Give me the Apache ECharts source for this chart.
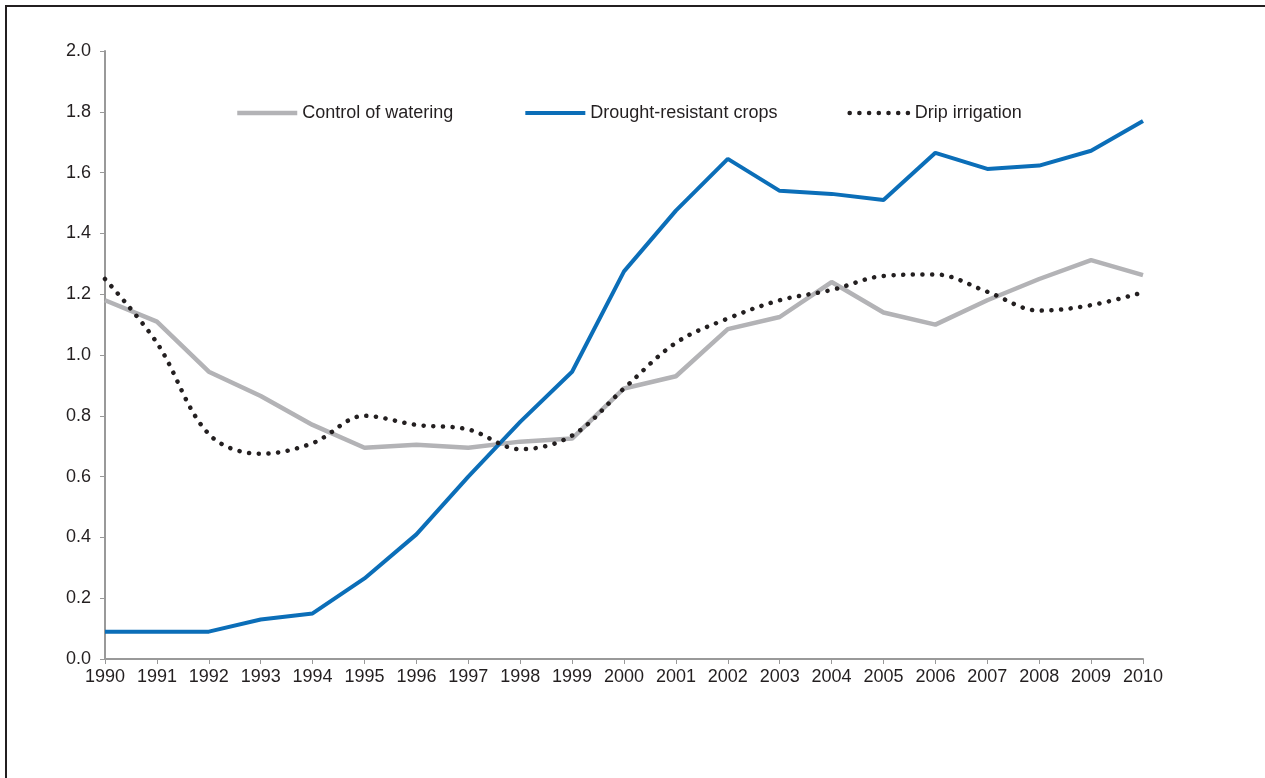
<!DOCTYPE html>
<html>
<head>
<meta charset="utf-8">
<script src="https://cdn.jsdelivr.net/npm/echarts@6/dist/echarts.min.js"></script>
<style>html,body{margin:0;padding:0;background:#fff;}#c{width:1265px;height:778px;}</style>
</head>
<body>
<div id="c"></div>
<script>
const years = ['1990','1991','1992','1993','1994','1995','1996','1997','1998','1999','2000','2001','2002','2003','2004','2005','2006','2007','2008','2009','2010'];
const controlOfWatering = [1.18,1.11,0.945,0.865,0.77,0.695,0.705,0.695,0.715,0.725,0.89,0.93,1.085,1.125,1.24,1.14,1.10,1.18,1.25,1.312,1.263];
const droughtResistant = [0.09,0.09,0.09,0.13,0.15,0.265,0.41,0.60,0.78,0.945,1.275,1.475,1.645,1.54,1.53,1.51,1.665,1.612,1.623,1.672,1.77];
const dripIrrigation = [1.25,1.04,0.74,0.675,0.71,0.80,0.77,0.755,0.69,0.735,0.89,1.04,1.12,1.18,1.214,1.26,1.265,1.208,1.146,1.164,1.206];

const chart = echarts.init(document.getElementById('c'), null, {renderer:'canvas'});
const font = 'Liberation Sans, Arial, sans-serif';
chart.setOption({
  animation:false,
  backgroundColor:'#fff',
  textStyle:{fontFamily:font},
  graphic:[{type:'polyline',shape:{points:[[6,800],[6,6],[1270,6]]},style:{stroke:'#231f20',lineWidth:2,fill:null}}],
  grid:{left:105,right:122,top:51,bottom:119},
  legend:{
    left:230, top:99, itemWidth:60, itemHeight:20, itemGap:70,
    lineStyle:{width:'inherit'},
    itemStyle:{opacity:0},
    textStyle:{fontFamily:font,fontSize:18,color:'#231f20'},
    data:['Control of watering','Drought-resistant crops','Drip irrigation']
  },
  xAxis:{
    type:'category', data:years, boundaryGap:false,
    axisLine:{lineStyle:{color:'#999999',width:2}},
    axisTick:{show:true,length:5,alignWithLabel:true,lineStyle:{color:'#999999',width:1}},
    axisLabel:{fontFamily:font,fontSize:18,color:'#231f20',margin:9,interval:0}
  },
  yAxis:{
    type:'value', min:0, max:2, interval:0.2,
    axisLine:{show:true,lineStyle:{color:'#999999',width:2}},
    axisTick:{show:true,length:5,lineStyle:{color:'#999999',width:1}},
    splitLine:{show:false},
    axisLabel:{fontFamily:font,fontSize:18,color:'#231f20',margin:14,formatter:v=>v.toFixed(1)}
  },
  series:[
    {name:'Control of watering',type:'line',data:controlOfWatering,symbol:'none',
     itemStyle:{color:'#b3b3b6'},lineStyle:{color:'#b3b3b6',width:4.5}},
    {name:'Drought-resistant crops',type:'line',data:droughtResistant,symbol:'none',
     itemStyle:{color:'#0b6eb8'},lineStyle:{color:'#0b6eb8',width:4}},
    {name:'Drip irrigation',type:'line',data:dripIrrigation,symbol:'none',smooth:0.35,
     itemStyle:{color:'#231f20'},lineStyle:{color:'#231f20',width:4.5,type:[0.1,9.6],cap:'round'}}
  ]
});
</script>
</body>
</html>
